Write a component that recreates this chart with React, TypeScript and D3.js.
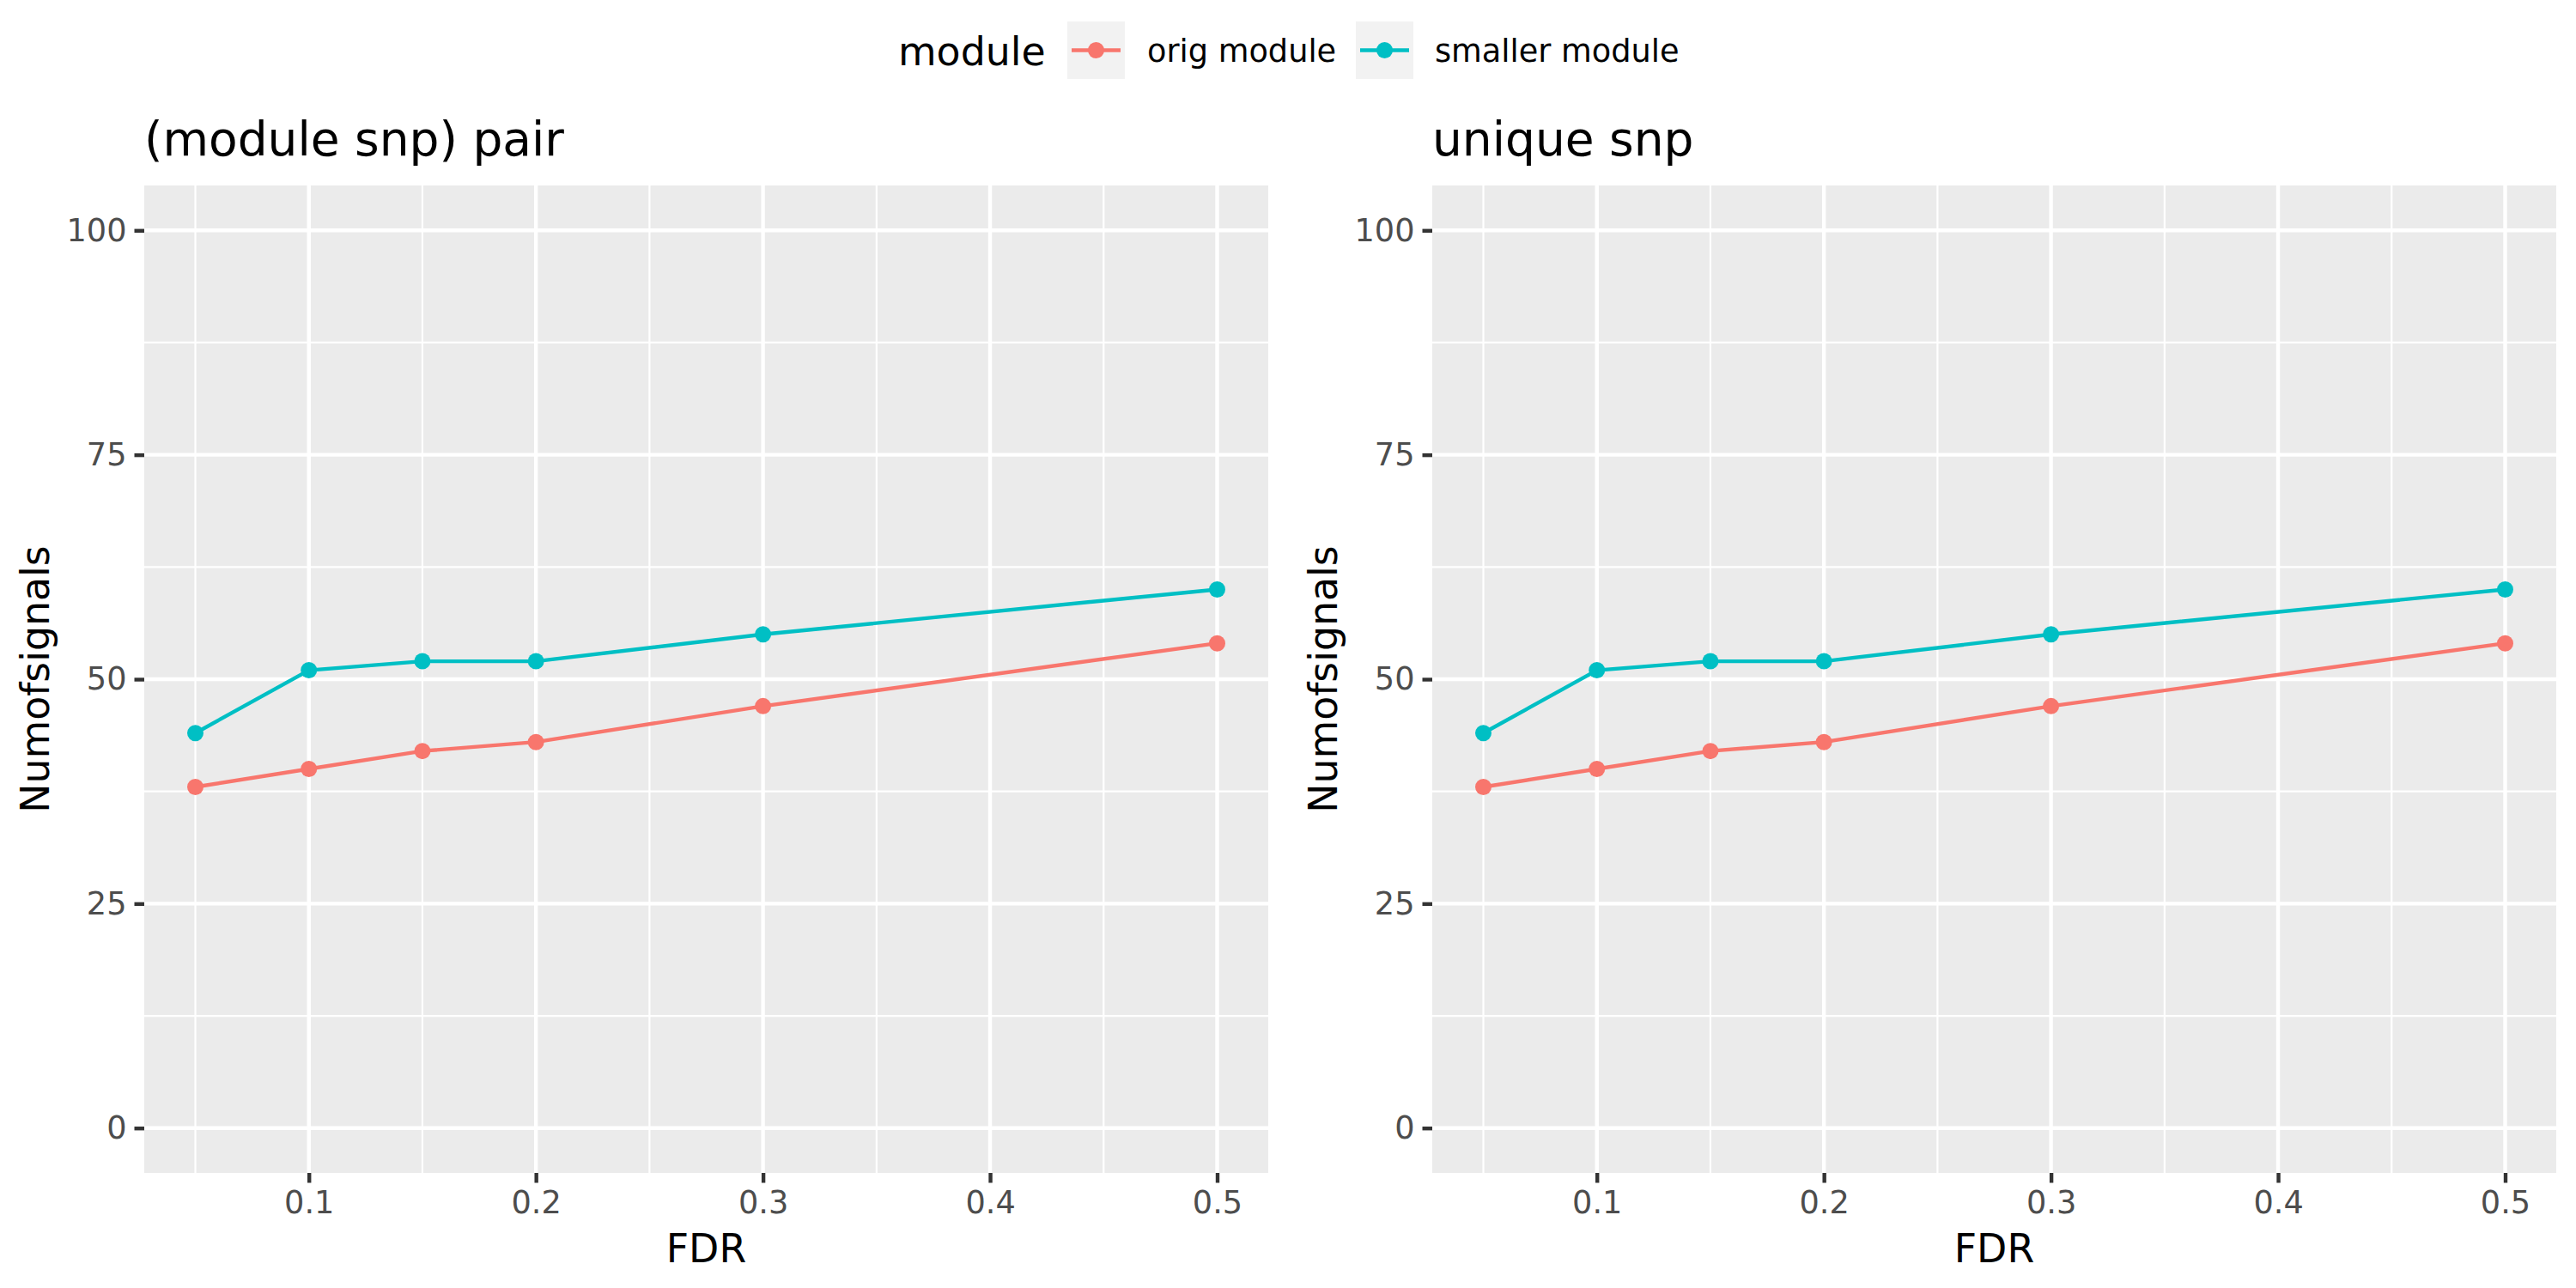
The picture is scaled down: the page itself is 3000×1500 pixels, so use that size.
import { useEffect, useRef } from "react";
import * as d3 from "d3";

// values
const fdr = [0.05, 0.1, 0.15, 0.2, 0.3, 0.5];
const origModule = [38, 40, 42, 43, 47, 54];
const smallerModule = [44, 51, 52, 52, 55, 60];
const panelTitles = ["(module snp) pair", "unique snp"];
const seriesNames = ["orig module", "smaller module"];
const seriesColors = ["#F8766D", "#00BFC4"];
const xTicks = [0.1, 0.2, 0.3, 0.4, 0.5];
const xMinor = [0.05, 0.15, 0.25, 0.35, 0.45];
const yTicks = [0, 25, 50, 75, 100];
const yMinor = [12.5, 37.5, 62.5, 87.5];

const W = 3000;
const H = 1500;
const FONT = "DejaVu Sans, sans-serif";

export default function App() {
  const ref = useRef<SVGSVGElement>(null);

  useEffect(() => {
    if (!ref.current) return;
    document.body.style.margin = "0";
    const svg = d3.select(ref.current);
    svg.selectAll("*").remove();

    svg.append("rect").attr("width", W).attr("height", H).attr("fill", "#fff");

    const top = 216;
    const bottom = 1366;
    const panels = [
      { left: 168, right: 1477 },
      { left: 1668, right: 2977 },
    ];
    const series = [origModule, smallerModule];

    // x expanded 5% around data range, y limits 0..100 expanded 5%
    const xLo = 0.05 - 0.45 * 0.05;
    const xHi = 0.5 + 0.45 * 0.05;

    panels.forEach((p, pi) => {
      const x = d3.scaleLinear().domain([xLo, xHi]).range([p.left, p.right]);
      const y = d3.scaleLinear().domain([-5, 105]).range([bottom, top]);
      const g = svg.append("g");

      g.append("rect")
        .attr("x", p.left)
        .attr("y", top)
        .attr("width", p.right - p.left)
        .attr("height", bottom - top)
        .attr("fill", "#EBEBEB");

      // minor grid
      g.selectAll(".ymin")
        .data(yMinor)
        .enter()
        .append("line")
        .attr("x1", p.left)
        .attr("x2", p.right)
        .attr("y1", (d) => y(d))
        .attr("y2", (d) => y(d))
        .attr("stroke", "#fff")
        .attr("stroke-width", 2.2);
      g.selectAll(".xmin")
        .data(xMinor)
        .enter()
        .append("line")
        .attr("y1", top)
        .attr("y2", bottom)
        .attr("x1", (d) => x(d))
        .attr("x2", (d) => x(d))
        .attr("stroke", "#fff")
        .attr("stroke-width", 2.2);

      // major grid
      g.selectAll(".ymaj")
        .data(yTicks)
        .enter()
        .append("line")
        .attr("x1", p.left)
        .attr("x2", p.right)
        .attr("y1", (d) => y(d))
        .attr("y2", (d) => y(d))
        .attr("stroke", "#fff")
        .attr("stroke-width", 4.4);
      g.selectAll(".xmaj")
        .data(xTicks)
        .enter()
        .append("line")
        .attr("y1", top)
        .attr("y2", bottom)
        .attr("x1", (d) => x(d))
        .attr("x2", (d) => x(d))
        .attr("stroke", "#fff")
        .attr("stroke-width", 4.4);

      // lines and points
      const line = d3
        .line<number>()
        .x((_, i) => x(fdr[i]))
        .y((d) => y(d));

      series.forEach((vals, si) => {
        g.append("path")
          .attr("d", line(vals))
          .attr("fill", "none")
          .attr("stroke", seriesColors[si])
          .attr("stroke-width", 4.4);
        g.selectAll(`.pt${si}`)
          .data(vals)
          .enter()
          .append("circle")
          .attr("cx", (_, i) => x(fdr[i]))
          .attr("cy", (d) => y(d))
          .attr("r", 9.5)
          .attr("fill", seriesColors[si]);
      });

      // axes
      const ax = g
        .append("g")
        .attr("transform", `translate(${p.left},0)`)
        .call(
          d3
            .axisLeft(y)
            .tickValues(yTicks)
            .tickSize(11.5)
            .tickPadding(9)
            .tickFormat(d3.format("d"))
        );
      const bx = g
        .append("g")
        .attr("transform", `translate(0,${bottom})`)
        .call(
          d3
            .axisBottom(x)
            .tickValues(xTicks)
            .tickSize(11.5)
            .tickPadding(9)
            .tickFormat(d3.format(".1f"))
        );
      [ax, bx].forEach((a) => {
        a.select(".domain").remove();
        a.selectAll("line").attr("stroke", "#333333").attr("stroke-width", 4.4);
        a.selectAll("text")
          .attr("fill", "#4D4D4D")
          .attr("font-size", 36.7)
          .attr("font-family", FONT);
      });

      // titles
      g.append("text")
        .attr("x", p.left)
        .attr("y", 181)
        .attr("font-family", FONT)
        .attr("font-size", 55)
        .attr("fill", "#000")
        .text(panelTitles[pi]);

      g.append("text")
        .attr("x", (p.left + p.right) / 2)
        .attr("y", 1470)
        .attr("text-anchor", "middle")
        .attr("font-family", FONT)
        .attr("font-size", 45.8)
        .attr("fill", "#000")
        .text("FDR");

      g.append("text")
        .attr("transform", `translate(${p.left - 111},${(top + bottom) / 2}) rotate(-90)`)
        .attr("text-anchor", "middle")
        .attr("font-family", FONT)
        .attr("font-size", 45.8)
        .attr("fill", "#000")
        .text("Numofsignals");
    });

    // legend
    const lg = svg.append("g");
    lg.append("text")
      .attr("x", 1046)
      .attr("y", 76)
      .attr("font-family", FONT)
      .attr("font-size", 45.8)
      .attr("fill", "#000")
      .text("module");

    const keyX = [1243, 1579];
    const textX = [1336, 1671];
    seriesNames.forEach((name, i) => {
      const kx = keyX[i];
      lg.append("rect")
        .attr("x", kx)
        .attr("y", 25)
        .attr("width", 67)
        .attr("height", 67)
        .attr("fill", "#F2F2F2");
      lg.append("line")
        .attr("x1", kx + 5)
        .attr("x2", kx + 62)
        .attr("y1", 58.5)
        .attr("y2", 58.5)
        .attr("stroke", seriesColors[i])
        .attr("stroke-width", 4.4);
      lg.append("circle")
        .attr("cx", kx + 33.5)
        .attr("cy", 58.5)
        .attr("r", 9.5)
        .attr("fill", seriesColors[i]);
      lg.append("text")
        .attr("x", textX[i])
        .attr("y", 72)
        .attr("font-family", FONT)
        .attr("font-size", 36.7)
        .attr("fill", "#000")
        .text(name);
    });
  }, []);

  return (
    <svg
      ref={ref}
      width={W}
      height={H}
      style={{ position: "absolute", left: 0, top: 0, display: "block" }}
    ></svg>
  );
}
